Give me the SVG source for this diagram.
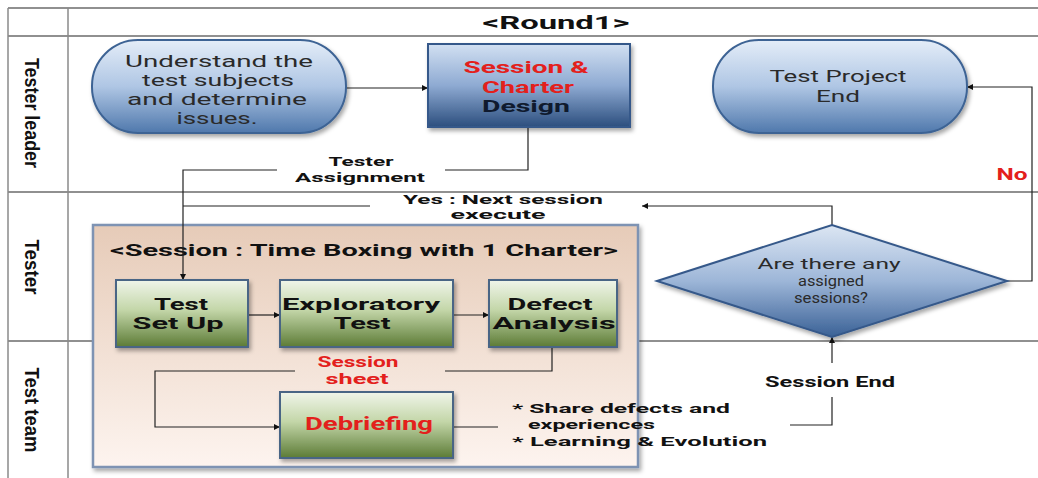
<svg xmlns="http://www.w3.org/2000/svg" width="1038" height="478" viewBox="0 0 1038 478">
<defs>
<linearGradient id="gPill" x1="0" y1="0" x2="0" y2="1"><stop offset="0" stop-color="#E4EDF8"/><stop offset="0.5" stop-color="#AFC6E4"/><stop offset="1" stop-color="#4F78AC"/></linearGradient>
<linearGradient id="gRect" x1="0" y1="0" x2="0" y2="1"><stop offset="0" stop-color="#D2E0F2"/><stop offset="0.5" stop-color="#8EAAD2"/><stop offset="1" stop-color="#2C4E7E"/></linearGradient>
<linearGradient id="gDia" x1="0" y1="0" x2="0" y2="1"><stop offset="0" stop-color="#DCE6F3"/><stop offset="0.5" stop-color="#9DB6D8"/><stop offset="1" stop-color="#3A6196"/></linearGradient>
<linearGradient id="gGreen" x1="0" y1="0" x2="0" y2="1"><stop offset="0" stop-color="#F0F5EA"/><stop offset="0.45" stop-color="#C3D6A8"/><stop offset="1" stop-color="#5C7B36"/></linearGradient>
<linearGradient id="gSess" x1="0" y1="0" x2="0" y2="1"><stop offset="0" stop-color="#E6CBB8"/><stop offset="1" stop-color="#FDF4EF"/></linearGradient>
<filter id="sh" x="-10%" y="-10%" width="125%" height="130%"><feDropShadow dx="2" dy="3" stdDeviation="2" flood-color="#000" flood-opacity="0.35"/></filter>
<marker id="ah" viewBox="0 0 10 10" refX="10" refY="5" markerWidth="6" markerHeight="6" orient="auto" markerUnits="userSpaceOnUse"><path d="M0,0 L10,5 L0,10 z" fill="#111"/></marker>
<style>
.t{font-family:Roboto,"Open Sans",sans-serif;}
.b{font-weight:bold;}
.red{fill:#E3201C;}
.blk{fill:#111;}
.reg{fill:#2A2A2A;}
.lane{font-family:"Liberation Sans",Arial,sans-serif;font-weight:bold;font-size:21px;fill:#111;}
.grid{stroke:#8A8A8A;stroke-width:1.5;fill:none;}
.row{stroke:#222;stroke-width:1.2;fill:none;}
.con{stroke:#222;stroke-width:1.2;fill:none;}
.pill{fill:url(#gPill);stroke:#3D6394;stroke-width:2;}
.rb{fill:url(#gRect);stroke:#34598A;stroke-width:2;}
.gb{fill:url(#gGreen);stroke:#4A6585;stroke-width:2;}
</style>
</defs>
<rect width="1038" height="478" fill="#fff"/>
<g id="table">
<line class="row" x1="8" y1="8" x2="1038" y2="8" stroke="#777"/>
<line class="row" x1="8" y1="36" x2="1038" y2="36"/>
<line class="row" x1="8" y1="192" x2="1038" y2="192"/>
<line class="row" x1="8" y1="341" x2="1038" y2="341"/>
<line class="grid" x1="8" y1="8" x2="8" y2="478"/>
<line class="grid" x1="68" y1="8" x2="68" y2="478"/>
<text class="t b blk" x="556" y="29" font-size="19" text-anchor="middle" textLength="147" lengthAdjust="spacingAndGlyphs">&lt;Round1&gt;</text>
<text class="lane" transform="translate(33,113) rotate(90)" y="8" text-anchor="middle" textLength="110" lengthAdjust="spacingAndGlyphs">Tester leader</text>
<text class="lane" transform="translate(33,267) rotate(90)" y="8" text-anchor="middle" textLength="55" lengthAdjust="spacingAndGlyphs">Tester</text>
<text class="lane" transform="translate(33,410) rotate(90)" y="8" text-anchor="middle" textLength="85" lengthAdjust="spacingAndGlyphs">Test team</text>
</g>
<g id="session-box">
<rect x="93" y="225" width="545" height="242" fill="url(#gSess)" stroke="#7E93B3" stroke-width="2.5" filter="url(#sh)"/>
<text class="t b blk" x="110" y="256" font-size="17" textLength="508" lengthAdjust="spacingAndGlyphs">&lt;Session : Time Boxing with 1 Charter&gt;</text>
</g>
<g id="connectors">
<path class="con" d="M346,88 H428" marker-end="url(#ah)"/>
<path class="con" d="M528,127 V170 H445"/>
<path class="con" d="M277,170 H183 V280" marker-end="url(#ah)"/>
<path class="con" d="M832,225 V206 H642" marker-end="url(#ah)"/>
<path class="con" d="M370,206 H183"/>
<path class="con" d="M248,315 H280" marker-end="url(#ah)"/>
<path class="con" d="M453,315 H489" marker-end="url(#ah)"/>
<path class="con" d="M552,347 V371 H445"/>
<path class="con" d="M295,371 H155 V427 H280" marker-end="url(#ah)"/>
<path class="con" d="M453,427 H498"/>
<path class="con" d="M790,425 H832 V397"/>
<path class="con" d="M832,363 V337" marker-end="url(#ah)"/>
<path class="con" d="M1007,281 H1032 V87 H967" marker-end="url(#ah)"/>
<text class="t b blk" x="361" y="166" font-size="13.5" text-anchor="middle" textLength="65" lengthAdjust="spacingAndGlyphs">Tester</text>
<text class="t b blk" x="360" y="182" font-size="13.5" text-anchor="middle" textLength="130" lengthAdjust="spacingAndGlyphs">Assignment</text>
<text class="t b blk" x="503" y="204" font-size="12.5" text-anchor="middle" textLength="200" lengthAdjust="spacingAndGlyphs">Yes : Next session</text>
<text class="t b blk" x="498" y="219" font-size="12.5" text-anchor="middle" textLength="95" lengthAdjust="spacingAndGlyphs">execute</text>
<text class="t b red" x="358" y="367" font-size="14" text-anchor="middle" textLength="81" lengthAdjust="spacingAndGlyphs">Session</text>
<text class="t b red" x="357" y="384" font-size="14" text-anchor="middle" textLength="63" lengthAdjust="spacingAndGlyphs">sheet</text>
<text class="t b blk" x="512" y="413" font-size="13.5" textLength="218" lengthAdjust="spacingAndGlyphs">* Share defects and</text>
<text class="t b blk" x="528" y="429" font-size="13.5" textLength="127" lengthAdjust="spacingAndGlyphs">experiences</text>
<text class="t b blk" x="512" y="446" font-size="13.5" textLength="255" lengthAdjust="spacingAndGlyphs">* Learning &amp; Evolution</text>
<text class="t b blk" x="830" y="387" font-size="15" text-anchor="middle" textLength="130" lengthAdjust="spacingAndGlyphs">Session End</text>
<text class="t b red" x="1012" y="180" font-size="16" text-anchor="middle" textLength="31" lengthAdjust="spacingAndGlyphs">No</text>
</g>
<g id="n-understand">
<rect class="pill" x="92" y="40" width="254" height="93" rx="46" filter="url(#sh)"/>
<text class="t reg" x="219" y="67" font-size="16" text-anchor="middle" textLength="188" lengthAdjust="spacingAndGlyphs">Understand the</text>
<text class="t reg" x="218" y="86" font-size="16" text-anchor="middle" textLength="152" lengthAdjust="spacingAndGlyphs">test subjects</text>
<text class="t reg" x="217" y="105" font-size="16" text-anchor="middle" textLength="180" lengthAdjust="spacingAndGlyphs">and determine</text>
<text class="t reg" x="217" y="124" font-size="16" text-anchor="middle" textLength="81" lengthAdjust="spacingAndGlyphs">issues.</text>
</g>
<g id="n-design">
<rect class="rb" x="428" y="44" width="202" height="83" filter="url(#sh)"/>
<text class="t b red" x="526" y="73" font-size="16" text-anchor="middle" textLength="125" lengthAdjust="spacingAndGlyphs">Session &amp;</text>
<text class="t b red" x="528" y="93" font-size="16" text-anchor="middle" textLength="92" lengthAdjust="spacingAndGlyphs">Charter</text>
<text class="t b" fill="#0F1A2E" x="526" y="112" font-size="16" text-anchor="middle" textLength="88" lengthAdjust="spacingAndGlyphs">Design</text>
</g>
<g id="n-end">
<rect class="pill" x="713" y="40" width="254" height="93" rx="46" filter="url(#sh)"/>
<text class="t reg" x="838" y="82" font-size="16" text-anchor="middle" textLength="137" lengthAdjust="spacingAndGlyphs">Test Project</text>
<text class="t reg" x="838" y="102" font-size="16" text-anchor="middle" textLength="44" lengthAdjust="spacingAndGlyphs">End</text>
</g>
<g id="n-decision">
<polygon points="657,281 832,225 1007,281 832,337" fill="url(#gDia)" stroke="#36598A" stroke-width="2" filter="url(#sh)"/>
<text class="t reg" x="829" y="269" font-size="14.5" text-anchor="middle" textLength="143" lengthAdjust="spacingAndGlyphs">Are there any</text>
<text class="t reg" x="831" y="286" font-size="14.5" text-anchor="middle" textLength="66" lengthAdjust="spacingAndGlyphs">assigned</text>
<text class="t reg" x="831" y="303" font-size="14.5" text-anchor="middle" textLength="74" lengthAdjust="spacingAndGlyphs">sessions?</text>
</g>
<g id="n-setup">
<rect class="gb" x="116" y="280" width="132" height="67" filter="url(#sh)"/>
<text class="t b blk" x="181" y="310" font-size="16" text-anchor="middle" textLength="54" lengthAdjust="spacingAndGlyphs">Test</text>
<text class="t b blk" x="178" y="329" font-size="16" text-anchor="middle" textLength="91" lengthAdjust="spacingAndGlyphs">Set Up</text>
</g>
<g id="n-exploratory">
<rect class="gb" x="280" y="280" width="173" height="67" filter="url(#sh)"/>
<text class="t b blk" x="361" y="310" font-size="16" text-anchor="middle" textLength="158" lengthAdjust="spacingAndGlyphs">Exploratory</text>
<text class="t b blk" x="362" y="329" font-size="16" text-anchor="middle" textLength="57" lengthAdjust="spacingAndGlyphs">Test</text>
</g>
<g id="n-defect">
<rect class="gb" x="489" y="280" width="128" height="67" filter="url(#sh)"/>
<text class="t b blk" x="550" y="310" font-size="16" text-anchor="middle" textLength="85" lengthAdjust="spacingAndGlyphs">Defect</text>
<text class="t b blk" x="554" y="329" font-size="16" text-anchor="middle" textLength="123" lengthAdjust="spacingAndGlyphs">Analysis</text>
</g>
<g id="n-debriefing">
<rect class="gb" x="280" y="392" width="173" height="66" filter="url(#sh)"/>
<text class="t b red" x="369" y="430" font-size="18" text-anchor="middle" textLength="128" lengthAdjust="spacingAndGlyphs">Debriefing</text>
</g>
</svg>
